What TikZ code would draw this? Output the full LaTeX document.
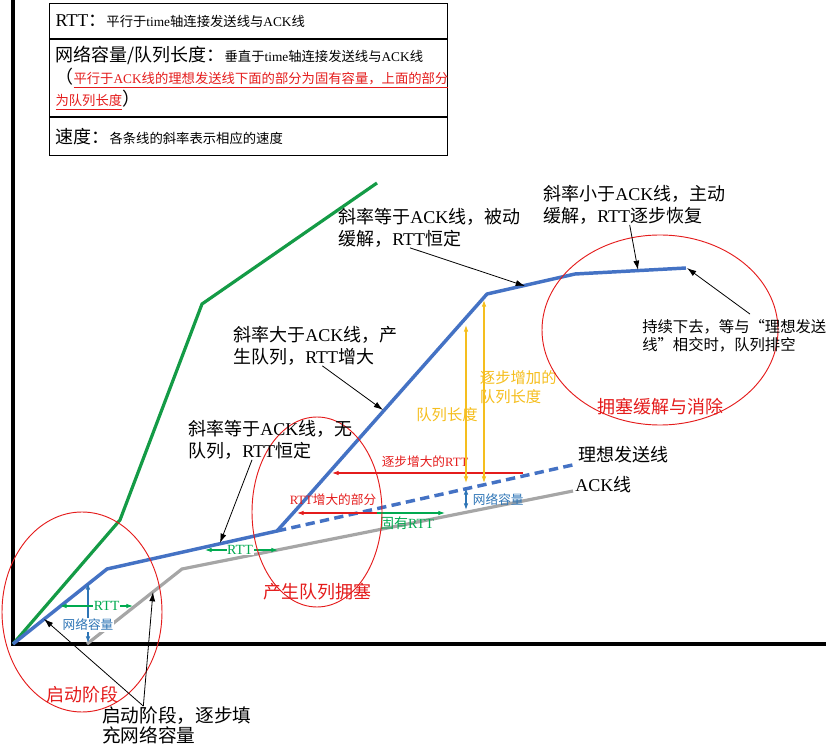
\documentclass[tikz,border=0pt]{standalone}
\usepackage{fontspec}
\setmainfont{Noto Sans CJK SC}
\newfontfamily\enfont{Liberation Serif}
\newcommand{\en}[1]{{\enfont #1}}
\newcommand{\bigfont}{\fontsize{13.5}{16.5}\selectfont}
\usetikzlibrary{positioning,arrows.meta}
\definecolor{sendblue}{RGB}{68,114,196}
\definecolor{capblue}{RGB}{46,117,182}
\definecolor{ackgray}{RGB}{166,166,166}
\definecolor{linegreen}{RGB}{20,155,70}
\definecolor{rttgreen}{RGB}{0,170,80}
\definecolor{queueyellow}{RGB}{245,190,30}
\definecolor{markred}{RGB}{228,28,28}

\begin{document}
\begin{tikzpicture}[x=0.75pt, y=-0.75pt,
  infobox/.style={draw, line width=0.8pt, text width=289.5pt, inner xsep=4.5pt, inner ysep=0pt, align=left, font=\fontsize{10}{16.5}\selectfont},
  note/.style={align=left, inner sep=0pt, font=\fontsize{13.5}{16.5}\selectfont},
  region/.style={text=markred, inner sep=0pt, font=\fontsize{13.5}{16}\selectfont},
  pointer/.style={black, line width=0.6pt, -{Latex[length=7pt,width=4.5pt]}},
  measure/.style={line width=0.8pt, {Latex[length=5pt,width=3.5pt]}-{Latex[length=5pt,width=3.5pt]}},
  tag/.style={inner sep=0.5pt, font=\fontsize{9.5}{11}\selectfont}]

\useasboundingbox (0,0) rectangle (826,748);

% LEGEND

\node [infobox, minimum height=26.25pt, anchor=north west] (rtt-def) at (49,3)
{{\bigfont\en{RTT}：}平行于\en{time}轴连接发送线与\en{ACK}线};

\node [infobox, minimum height=57.75pt, below=0pt of rtt-def] (cap-def)
{{\bigfont 网络容量/队列长度：}垂直于\en{time}轴连接发送线与\en{ACK}线\\
{\bigfont （}\textcolor{markred}{\underline{平行于\en{ACK}线的理想发送线下面的部分为固有容量，上面的部分}}\\
\textcolor{markred}{\underline{为队列长度}}{\bigfont ）}};

\node [infobox, minimum height=28.5pt, below=0pt of cap-def] (speed-def)
{{\bigfont 速度：}各条线的斜率表示相应的速度};

% AXES

\coordinate (origin) at (13,644);
\coordinate (y-top) at (13,0);
\coordinate (x-end) at (826,644);
\draw [line width=3pt] (y-top) -- (origin) -- (x-end);

% CURVES

\coordinate (gr1) at (120,520);
\coordinate (gr2) at (202,304);
\coordinate (gr3) at (377,183);
\draw [linegreen, line width=2.4pt] (origin) -- (gr1) -- (gr2) -- (gr3);

\coordinate (ack0) at (87,644);
\coordinate (ack1) at (182,569);
\coordinate (ack2) at (573,491);
\draw [ackgray, line width=2.4pt] (ack0) -- (ack1) -- (ack2);

\coordinate (snd1) at (107,569);
\coordinate (snd2) at (277,531);
\coordinate (snd3) at (295,511);
\coordinate (snd4) at (487,294);
\coordinate (snd5) at (575,274);
\coordinate (snd6) at (686,268);
\coordinate (ideal-end) at (577,464);
\draw [sendblue, line width=2.6pt, line join=round] (origin) -- (snd1) -- (snd2) -- (snd3) -- (snd4) -- (snd5) -- (snd6);
\draw [sendblue, line width=2.6pt, dash pattern=on 7pt off 4pt] (snd2) -- (ideal-end);

\node [note, anchor=west] (ideal-lbl) at (578,455) {理想发送线};
\node [note, anchor=west] (ack-lbl) at (575,485) {\en{ACK}线};

% MEASURES

\coordinate (cap-l-lo) at (88,643);
\coordinate (cap-l-hi) at (88,583);
\draw [measure, capblue] (cap-l-lo) -- (cap-l-hi) node [tag, pos=0.3, fill=white, text=capblue] (cap-l-lbl) {网络容量};

\coordinate (rtt-l-a) at (60,606);
\coordinate (rtt-l-b) at (133,606);
\draw [measure, rttgreen] (rtt-l-a) -- (rtt-l-b) node [tag, pos=0.64, fill=white, text=rttgreen, font=\fontsize{10.5}{12}\selectfont] (rtt-l-lbl) {\en{RTT}};

\coordinate (rtt-m-a) at (205,550);
\coordinate (rtt-m-b) at (278,550);
\draw [measure, rttgreen] (rtt-m-a) -- (rtt-m-b) node [tag, pos=0.48, fill=white, text=rttgreen, font=\fontsize{10.5}{12}\selectfont] (rtt-m-lbl) {\en{RTT}};

\coordinate (rtt-split) at (377,513);
\coordinate (rtt-inc-end) at (297,513);
\coordinate (rtt-base-end) at (445,513);
\draw [markred, line width=0.8pt, -{Latex[length=5pt,width=3.5pt]}] (rtt-split) -- (rtt-inc-end);
\draw [rttgreen, line width=0.8pt, -{Latex[length=5pt,width=3.5pt]}] (rtt-split) -- (rtt-base-end);
\node [tag, text=markred] (rtt-inc-lbl) at (333,500) {\en{RTT}增大的部分};
\node [tag, text=rttgreen, font=\fontsize{10.5}{12}\selectfont] (rtt-base-lbl) at (407,523) {固有\en{RTT}};

\coordinate (rtt-grow-r) at (523,473);
\coordinate (rtt-grow-l) at (332,473);
\draw [markred, line width=0.8pt, -{Latex[length=5pt,width=3.5pt]}] (rtt-grow-r) -- (rtt-grow-l);
\node [tag, text=markred] (rtt-grow-lbl) at (425,462) {逐步增大的\en{RTT}};

\coordinate (cap-r-lo) at (466,510);
\coordinate (cap-r-hi) at (466,488);
\draw [measure, capblue] (cap-r-lo) -- (cap-r-hi);
\node [tag, text=capblue, anchor=west] (cap-r-lbl) at (472,500) {网络容量};

\coordinate (q1-lo) at (466,483);
\coordinate (q1-hi) at (466,325);
\coordinate (q2-lo) at (484,483);
\coordinate (q2-hi) at (484,300);
\draw [measure, queueyellow] (q1-lo) -- (q1-hi);
\draw [measure, queueyellow] (q2-lo) -- (q2-hi);
\node [tag, text=queueyellow, font=\fontsize{11.5}{13}\selectfont] (q1-lbl) at (447,415) {队列长度};
\node [tag, text=queueyellow, anchor=west, align=left, font=\fontsize{11.5}{14.25}\selectfont] (q2-lbl) at (479,387) {逐步增加的\\队列长度};

% REGIONS

\draw [markred, line width=0.7pt] (82,612) ellipse [x radius=60pt, y radius=75pt];
\draw [markred, line width=0.7pt] (317,512) ellipse [x radius=48.75pt, y radius=71.25pt];
\draw [markred, line width=0.7pt] (660,330) ellipse [x radius=88.5pt, y radius=71.25pt];

\node [region] (start-lbl) at (82,695) {启动阶段};
\node [region] (jam-lbl) at (317,592) {产生队列拥塞};
\node [region] (relief-lbl) at (660,407) {拥塞缓解与消除};

% NOTES

\node [note, anchor=west] (ann-a) at (338,228) {斜率等于\en{ACK}线，被动\\缓解，\en{RTT}恒定};
\node [note, anchor=west] (ann-b) at (233,346) {斜率大于\en{ACK}线，产\\生队列，\en{RTT}增大};
\node [note, anchor=west] (ann-c) at (188,440) {斜率等于\en{ACK}线，无\\队列，\en{RTT}恒定};
\node [note, anchor=west] (ann-d) at (543,205) {斜率小于\en{ACK}线，主动\\缓解，\en{RTT}逐步恢复};
\node [note, anchor=west, font=\fontsize{11.5}{13.5}\selectfont] (ann-e) at (642,336) {持续下去，等与“理想发送\\线”相交时，队列排空};
\node [note, anchor=west, font=\fontsize{14}{15}\selectfont] (ann-f) at (102,725) {启动阶段，逐步填\\充网络容量};

\coordinate (tip-a) at (525,286);
\coordinate (tip-b) at (383,410);
\coordinate (tip-c) at (220,543);
\coordinate (tip-d) at (638,270);
\coordinate (tip-e) at (687,268);
\coordinate (tip-f1) at (44,619);
\coordinate (tip-f2) at (153,592);

\draw [pointer] ([xshift=54pt]ann-a.south west) -- (tip-a);
\draw [pointer] ([xshift=67pt]ann-b.south west) -- (tip-b);
\draw [pointer] ([xshift=48pt]ann-c.south west) -- (tip-c);
\draw [pointer] ([xshift=65pt]ann-d.south west) -- (tip-d);
\draw [pointer] ([xshift=81pt,yshift=4pt]ann-e.north west) -- (tip-e);
\draw [pointer] ([xshift=31pt]ann-f.north west) -- (tip-f1);
\draw [pointer] ([xshift=31pt]ann-f.north west) -- (tip-f2);

\end{tikzpicture}
\end{document}
